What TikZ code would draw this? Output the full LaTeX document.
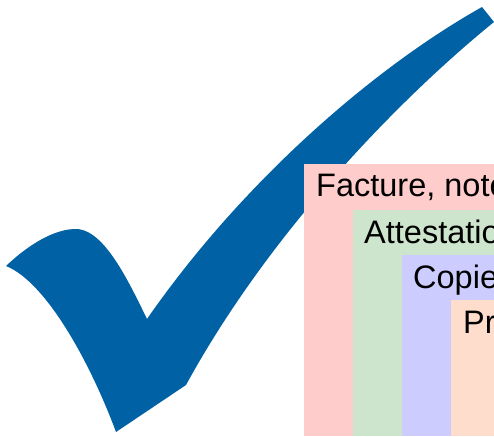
\documentclass[tikz,border=0pt]{standalone}
\usepackage{fontspec}
\setmainfont{Liberation Sans}
\definecolor{checkblue}{HTML}{0061A5}
\definecolor{boxred}{HTML}{FFCCCC}
\definecolor{boxgreen}{HTML}{CCE5CC}
\definecolor{boxblue}{HTML}{CCCCFF}
\definecolor{boxorange}{HTML}{FFDDCC}
\tikzset{
  levelbox/.style={draw=none},
  leveltext/.style={anchor=base west,inner sep=0pt,font=\fontsize{32.5}{39}\selectfont,text=black}
}
\begin{document}
\begin{tikzpicture}[x=1pt,y=-1pt]
\useasboundingbox (0,0) rectangle (494,436);
\clip (0,0) rectangle (494,436);
\fill[checkblue] (6,266)
  .. controls (28,245) and (55,228) .. (78,229)
  .. controls (105,232) and (128,280) .. (147,319)
  .. controls (240,185) and (370,70) .. (482,7)
  -- (494,22)
  .. controls (410,90) and (274,224) .. (186,385)
  -- (116,432)
  .. controls (90,362) and (46,282) .. (6,266) -- cycle;
\fill[boxred,levelbox] (304,164) rectangle (494,436);
\fill[boxgreen,levelbox] (353,209.5) rectangle (494,436);
\fill[boxblue,levelbox] (402,255) rectangle (494,436);
\fill[boxorange,levelbox] (451,300) rectangle (494,436);
\node[leveltext] (facture) at (316,196) {Facture, note};
\node[leveltext] (attest) at (364,243) {Attestatio};
\node[leveltext] (copie) at (413,288) {Copie};
\node[leveltext] (pre) at (463,333) {Pr};
\end{tikzpicture}
\end{document}
